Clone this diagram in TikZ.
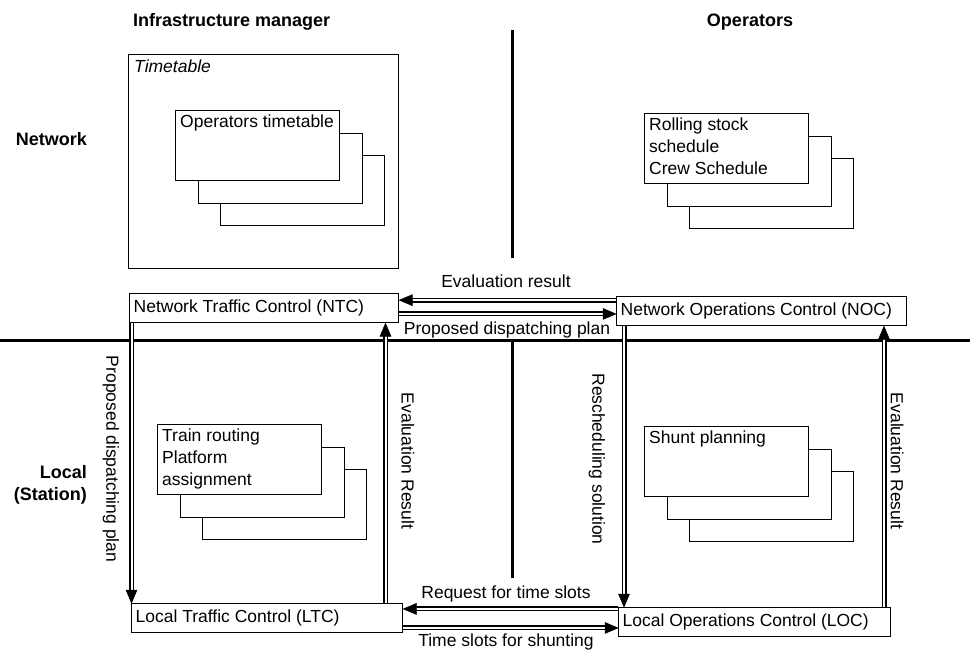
\documentclass[tikz,border=0pt]{standalone}
\usepackage{fontspec}
\setmainfont{Liberation Sans}
\usetikzlibrary{calc}
\newcommand\sheetstack[4]{%
  \node[sheet] (#1c) at (#2+45,#3+45) {};
  \node[sheet] (#1b) at (#2+22.5,#3+22.5) {};
  \node[sheet, label={[anchor=north west, inner xsep=5pt, inner ysep=4.5pt, align=left]north west:{#4}}] (#1) at (#2,#3) {};
}
\newcommand\dblarrow[2]{%
  \draw[dbl, shorten >=10pt] (#1) -- (#2);
  \fill[tiphead] (#2) -- ($(#2)!14.1pt!22.9:(#1)$) -- ($(#2)!14.1pt!-22.9:(#1)$) -- cycle;
}
\begin{document}
\begin{tikzpicture}[x=1pt,y=-1pt,
  every node/.style={font=\fontsize{17.5}{22}\selectfont},
  box/.style={draw, line width=1.3pt, fill=white, anchor=north west, inner sep=0pt},
  ctrl/.style={box, minimum height=29pt, inner xsep=4pt, inner ysep=0pt},
  sheet/.style={box, minimum width=164pt, minimum height=70pt},
  head/.style={font=\fontsize{18}{22}\selectfont\bfseries, inner sep=0pt},
  dbl/.style={line width=1.5pt, double distance=2pt},
  tiphead/.style={fill=black, draw=black, line width=0.5pt, line join=miter},
  sepline/.style={line width=3pt}
]
\useasboundingbox (0,0) rectangle (970,651);

% separators
\draw[sepline] (0,340) -- (970,340);
\draw[sepline] (512,30) -- (512,258);
\draw[sepline] (512,340) -- (512,578);

% headers
\node[head, anchor=base west] (hIM) at (133,26) {Infrastructure manager};
\node[head, anchor=base] (hOP) at (750,26) {Operators};
\node[head, anchor=base east] (hNW) at (87,145) {Network};
\node[head, anchor=north east, align=right] (hLS) at (87,465) {Local\\(Station)};

% timetable
\node[box, minimum width=270pt, minimum height=214pt] (TT) at (128,54) {};
\node[anchor=base west, inner sep=0pt, font=\fontsize{17.5}{22}\selectfont\itshape] (TTl) at (134,72) {Timetable};

\sheetstack{OT}{175}{110}{Operators timetable}
\sheetstack{RS}{644}{113}{Rolling stock\\schedule\\Crew Schedule}
\sheetstack{TR}{157}{424}{Train routing\\Platform\\assignment}
\sheetstack{SP}{644}{426}{Shunt planning}

% control boxes
\node[ctrl] (NTC) at (129,293) {\makebox[261pt][l]{Network Traffic Control (NTC)}};
\node[ctrl] (NOC) at (616,296) {\makebox[282pt][l]{Network Operations Control (NOC)}};
\node[ctrl] (LTC) at (131,603) {\makebox[263pt][l]{Local Traffic Control (LTC)}};
\node[ctrl] (LOC) at (618,607) {\makebox[264pt][l]{Local Operations Control (LOC)}};

% connector end points
\coordinate (evS) at ($(NOC.west)+(0,-11)$);
\coordinate (evE) at ($(NTC.east)+(0,-8)$);
\coordinate (ppS) at ($(NTC.east)+(0,5.8)$);
\coordinate (ppE) at ($(NOC.west)+(0,2.8)$);
\coordinate (rqS) at ($(LOC.west)+(0,-13.2)$);
\coordinate (rqE) at ($(LTC.east)+(0,-9.2)$);
\coordinate (tsS) at ($(LTC.east)+(0,9.8)$);
\coordinate (tsE) at ($(LOC.west)+(0,5.8)$);
\coordinate (pdS) at ($(NTC.south west)+(2.5,0)$);
\coordinate (pdE) at ($(LTC.north west)+(0.5,0)$);
\coordinate (e1S) at ($(LTC.north west)+(254.5,0)$);
\coordinate (e1E) at ($(NTC.south west)+(256.5,0)$);
\coordinate (rsS) at ($(NOC.south west)+(8,0)$);
\coordinate (rsE) at ($(LOC.north west)+(6,0)$);
\coordinate (e2S) at ($(LOC.north west)+(266,0)$);
\coordinate (e2E) at ($(NOC.south west)+(268,0)$);

\dblarrow{evS}{evE}
\dblarrow{ppS}{ppE}
\dblarrow{rqS}{rqE}
\dblarrow{tsS}{tsE}
\dblarrow{pdS}{pdE}
\dblarrow{e1S}{e1E}
\dblarrow{rsS}{rsE}
\dblarrow{e2S}{e2E}

% connector labels
\node[anchor=base] (lEv) at (506,287) {Evaluation result};
\node[anchor=base] (lPp) at (507,334) {Proposed dispatching plan};
\node[anchor=base] (lRq) at (506,598) {Request for time slots};
\node[anchor=base] (lTs) at (506,646) {Time slots for shunting};
\node[rotate=-90] (lPd) at (111,459) {Proposed dispatching plan};
\node[rotate=-90] (lE1) at (408,461) {Evaluation Result};
\node[rotate=-90] (lRs) at (597,459) {Rescheduling solution};
\node[rotate=-90] (lE2) at (897,461) {Evaluation Result};
\end{tikzpicture}
\end{document}
